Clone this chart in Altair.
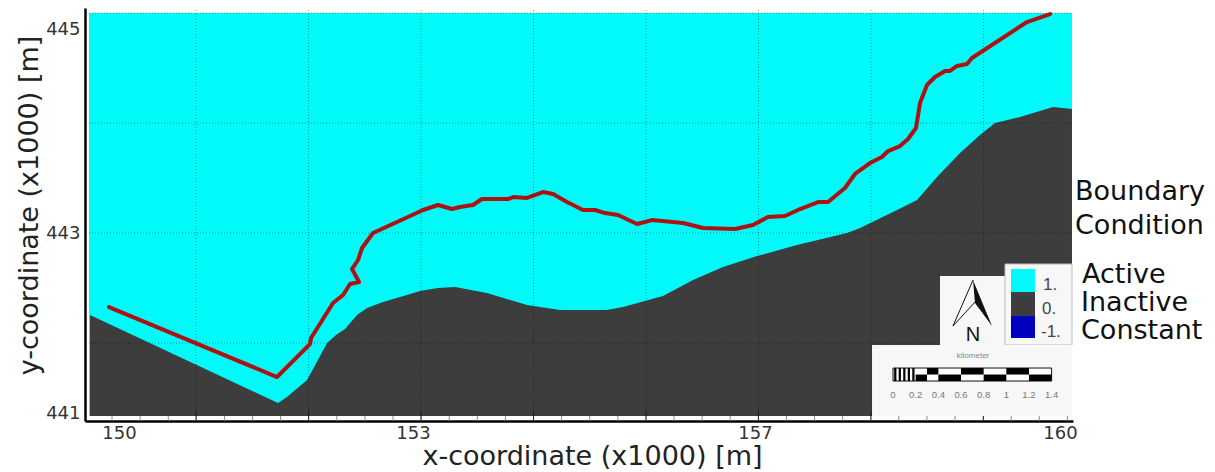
import altair as alt
import pandas as pd

# ---- data (x1000 m) ----
river_x = [149.892,151.699,152.054,152.065,152.301,152.409,152.484,152.581,152.505,152.57,152.613,152.731,152.989,153.269,153.43,153.581,153.667,153.806,153.903,154.183,154.237,154.387,154.559,154.667,154.817,154.989,155.118,155.226,155.366,155.57,155.731,156.065,156.28,156.624,156.817,156.978,157.161,157.323,157.516,157.624,157.806,157.914,158.075,158.204,158.269,158.398,158.484,158.57,158.613,158.688,158.774,158.882,158.935,159.011,159.118,159.172,159.763,160.011]
river_y = [442.104,441.375,441.719,441.781,442.146,442.229,442.344,442.365,442.5,442.594,442.719,442.875,442.99,443.115,443.167,443.125,443.146,443.167,443.229,443.229,443.25,443.24,443.302,443.281,443.198,443.115,443.115,443.083,443.063,442.969,443.01,442.979,442.927,442.917,442.958,443.042,443.052,443.125,443.198,443.198,443.344,443.49,443.604,443.667,443.729,443.781,443.854,443.969,444.229,444.417,444.5,444.563,444.563,444.615,444.635,444.698,445.073,445.156]
inactive_x = [149.688,151.71,151.806,152.022,152.237,152.333,152.43,152.559,152.667,152.839,153.022,153.237,153.43,153.613,153.957,154.387,154.742,155.247,155.419,155.849,156.172,156.495,156.86,157.29,157.828,157.968,158.366,158.581,158.796,159.043,159.258,159.419,159.688,160.043,160.247]
inactive_y = [442.021,441.104,441.167,441.344,441.729,441.813,441.875,442.021,442.094,442.156,442.208,442.271,442.302,442.313,442.25,442.125,442.073,442.073,442.104,442.219,442.385,442.521,442.635,442.75,442.875,442.927,443.115,443.219,443.458,443.708,443.896,444.021,444.083,444.188,444.167]
grid_x = [150.828,152.038,153.247,154.457,155.667,156.876,158.086,159.296]
grid_y = [444.021,442.875,441.729]
xtick_values = [150,153.161,156.839,160.118]
ytick_values = [441,442.875,445]
legend_labels = ["1.","0.","-1."]
scale_labels = ["0","0.2","0.4","0.6","0.8","1","1.2","1.4"]
scale_km = [0,0.2,0.4,0.6,0.8,1,1.2,1.4]

CYAN, DARK, BLUE, RED = "#00fafa", "#3d3d3d", "#0000c0", "#ad1212"
FONT = "DejaVu Sans"

xs = alt.Scale(domain=[149.634,160.258], nice=False, zero=False)
ys = alt.Scale(domain=[440.917,445.219], nice=False, zero=False)
x_axis = alt.Axis(
    values=xtick_values, labelExpr="format(round(datum.value),'d')", grid=False,
    ticks=False, domainColor="#000", domainWidth=2.5, labelFont=FONT, labelFontSize=18,
    labelColor="#333", labelPadding=3, labelFlush=False,
    title="x-coordinate (x1000) [m]", titleFont=FONT, titleFontSize=27, titleFontWeight="normal",
    titleColor="#222", titleX=507, titleY=35, titleBaseline="middle")
y_axis = alt.Axis(
    values=ytick_values, labelExpr="format(round(datum.value),'d')", grid=False,
    ticks=False, domainColor="#000", domainWidth=2.5, labelFont=FONT, labelFontSize=18,
    labelColor="#333", labelPadding=5,
    title="y-coordinate (x1000) [m]", titleFont=FONT, titleFontSize=27, titleFontWeight="normal",
    titleColor="#222", titleX=-56, titleY=197, titleBaseline="middle")
X = alt.X("x:Q", scale=xs, axis=x_axis)
Y = alt.Y("y:Q", scale=ys, axis=y_axis)
X2 = alt.X2("x2:Q")
Y2 = alt.Y2("y2:Q")

# picture position -> chart coordinate, for the inset furniture
def xv(px): return 150 + (px - 119) / 93
def yv(py): return 441 + (413 - py) / 96

def rect(x0, x1, y0, y1, color, **kw):
    d = pd.DataFrame({"x":[xv(x0)],"x2":[xv(x1)],"y":[yv(y0)],"y2":[yv(y1)]})
    return alt.Chart(d).mark_rect(color=color, **kw).encode(x=X, x2=X2, y=Y, y2=Y2)

def text(rows, **kw):
    d = pd.DataFrame([{"x":xv(a),"y":yv(b),"t":t} for a,b,t in rows])
    return alt.Chart(d).mark_text(**kw).encode(x=X, y=Y, text="t:N")

base = rect(89,1072,416,13,CYAN)

inactive = alt.Chart(pd.DataFrame({"x":inactive_x,"y":inactive_y,"y2":[yv(416)]*len(inactive_x)})).mark_area(
    color=DARK, opacity=1).encode(x=X, y=Y, y2=Y2)

vgrid = alt.Chart(pd.DataFrame({"x":grid_x,"y":[yv(416)]*8,"y2":[yv(8)]*8})).mark_rule(
    color="#000", opacity=0.4, strokeDash=[1,2], strokeWidth=1).encode(x=X, y=Y, y2=Y2)
hgrid = alt.Chart(pd.DataFrame({"y":grid_y+[yv(13)],"x":[xv(89)]*4,"x2":[xv(1072)]*4})).mark_rule(
    color="#000", opacity=0.4, strokeDash=[1,2], strokeWidth=1).encode(y=Y, x=X, x2=X2)

major = alt.Chart(pd.DataFrame({"x":grid_x,"y":[yv(421)]*8,"y2":[yv(411)]*8})).mark_rule(
    color="#111", opacity=0.8, strokeWidth=1).encode(x=X, y=Y, y2=Y2)
minor_x = [xv(112 + 28.1*i) for i in range(35)]
minor = alt.Chart(pd.DataFrame({"x":minor_x,"y":[yv(421)]*35,"y2":[yv(416)]*35})).mark_rule(
    color="#888", strokeWidth=1).encode(x=X, y=Y, y2=Y2)

river = alt.Chart(pd.DataFrame({"x":river_x,"y":river_y,"o":range(len(river_x))})).mark_line(
    color=RED, strokeWidth=4, strokeJoin="round", strokeCap="round").encode(x=X, y=Y, order="o:Q")

# insets
north_box = rect(940,1005,276,345,"#f7f7f7")
legend_box = rect(1005,1072,264,345,"#f7f7f7", stroke="#bbb", strokeWidth=1)
scale_box = rect(872,1072,345,416,"#f7f7f7")
sw = (rect(1011,1035,269,292,CYAN) + rect(1011,1035,292,316,DARK) + rect(1011,1035,316,338,BLUE))
leg_txt = text([(1043,285,legend_labels[0]),(1042,309,legend_labels[1]),(1041,332,legend_labels[2])],
               font="Liberation Sans", fontSize=17, color="#444", align="left", baseline="middle")

arrow_left = alt.Chart(pd.DataFrame({"x":[xv(973),xv(953),xv(975)],"y":[yv(280),yv(326),yv(302)],"o":[0,1,2]})).mark_line(
    color="#111", strokeWidth=1).encode(x=X, y=Y, order="o:Q")
arrow_right = alt.Chart(pd.DataFrame({"x":[xv(973),xv(975),xv(992)],"y":[yv(280),yv(285),yv(326)],
                                      "y2":[yv(280),yv(303),yv(326)]})).mark_area(color="#111").encode(x=X, y=Y, y2=Y2)
n_txt = text([(973,335,"N")], font="Liberation Sans", fontSize=20, color="#111", align="center", baseline="middle")

def kmx(k): return 893 + k/0.2*22.66
bar = rect(kmx(0),kmx(1.4),368,381,"#fff", stroke="#111", strokeWidth=1)
blocks = None
segments = [(0.3,0.4,368,374.5),(0.6,0.8,368,374.5),(1.0,1.2,368,374.5),
            (0.2,0.3,374.5,381),(0.4,0.6,374.5,381),(0.8,1.0,374.5,381),(1.2,1.4,374.5,381)]
segments += [(0.04*i+0.01,0.04*i+0.03,368,381) for i in range(5)]
for a,b,c,d in segments:
    r = rect(kmx(a),kmx(b),c,d,"#000")
    blocks = r if blocks is None else blocks + r
sc_txt = text([(kmx(k),395,t) for k,t in zip(scale_km,scale_labels)],
              font="Liberation Sans", fontSize=9.5, color="#777", align="center", baseline="middle")
km_txt = text([(973,356,"kilometer")], font="Liberation Sans", fontSize=8, color="#888", align="center", baseline="middle")

right_txt = text([(1075,192,"Boundary"),(1075,226,"Condition"),(1082,275,"Active"),(1081,303,"Inactive"),(1081,331,"Constant")],
                 font=FONT, fontSize=27, color="#111", align="left", baseline="middle")

chart = alt.layer(base, inactive, vgrid, hgrid, minor, major, river,
                  north_box, legend_box, scale_box, sw, leg_txt,
                  arrow_left, arrow_right, n_txt, bar, blocks, sc_txt, km_txt, right_txt
).properties(width=988, height=413,
             padding={"left":77,"top":0,"right":134,"bottom":50},
             autosize=alt.AutoSizeParams(type="none"),
             background="#ffffff"
).configure_view(stroke=None)

chart.save("out.html", embed_options={"renderer":"svg","actions":False})
